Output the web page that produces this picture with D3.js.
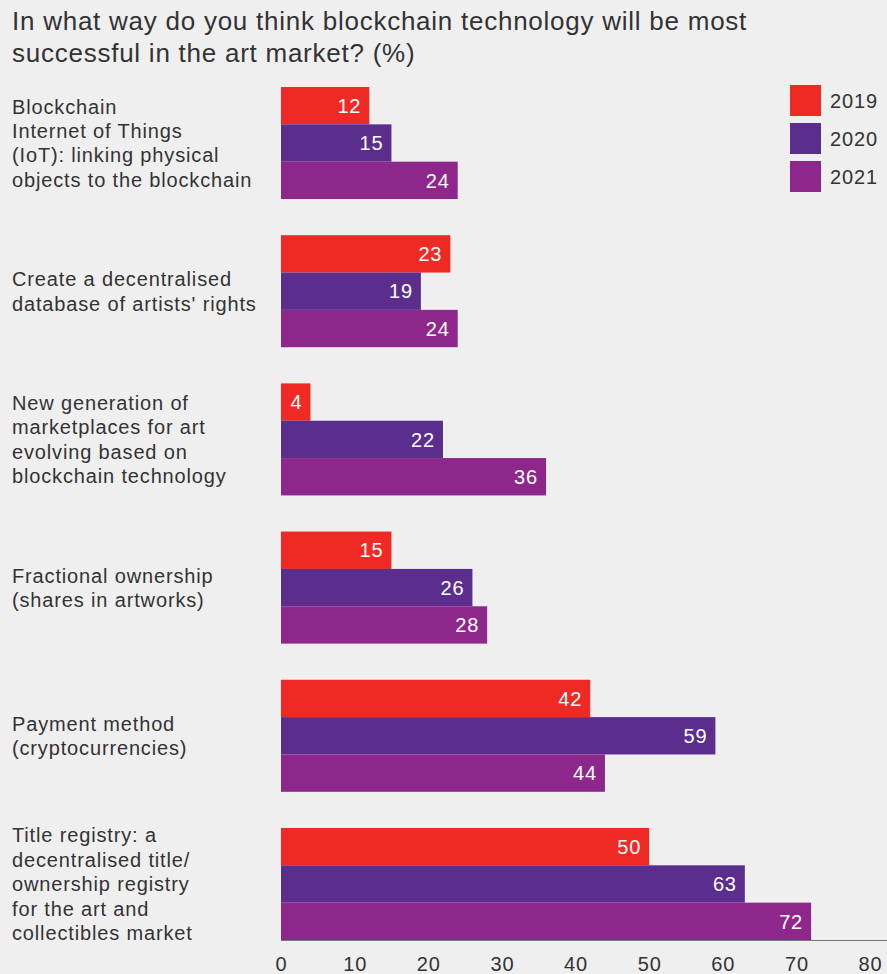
<!DOCTYPE html>
<html>
<head>
<meta charset="utf-8">
<script src="https://cdn.jsdelivr.net/npm/d3@7"></script>
<style>
  html, body { margin: 0; padding: 0; background: #efefef; }
  svg { display: block; font-family: "Liberation Sans", Arial, sans-serif; }
</style>
</head>
<body>
<svg id="chart" width="887" height="974"></svg>
<script>
// Survey answers, percent of respondents
const categories = [
  ["Blockchain", "Internet of Things", "(IoT): linking physical", "objects to the blockchain"],
  ["Create a decentralised", "database of artists' rights"],
  ["New generation of", "marketplaces for art", "evolving based on", "blockchain technology"],
  ["Fractional ownership", "(shares in artworks)"],
  ["Payment method", "(cryptocurrencies)"],
  ["Title registry: a", "decentralised title/", "ownership registry", "for the art and", "collectibles market"]
];
const years = ["2019", "2020", "2021"];
const values2019 = [12, 23, 4, 15, 42, 50];
const values2020 = [15, 19, 22, 26, 59, 63];
const values2021 = [24, 24, 36, 28, 44, 72];
const xTicks = [0, 10, 20, 30, 40, 50, 60, 70, 80];
const colors = ["#ef2a24", "#5b2e8e", "#8e278b"];

const series = [values2019, values2020, values2021];
const svg = d3.select("#chart");
const W = 887, H = 974;
const margin = { left: 281, right: 17, top: 87, bottom: 34 };
const textColor = "#333";
const fs = 20, ls = 0.85;

const x = d3.scaleLinear().domain([0, 80]).range([margin.left, W - margin.right]);
const y0 = d3.scaleBand().domain(d3.range(categories.length))
  .range([margin.top, H - margin.bottom]).paddingInner(0.244).paddingOuter(0);
const y1 = d3.scaleBand().domain(years).range([0, y0.bandwidth()]);

// Title
const title = svg.append("text").attr("x", 12).attr("y", 30)
  .attr("fill", textColor).attr("font-size", 26).attr("letter-spacing", 0.75);
title.append("tspan").attr("x", 12).text("In what way do you think blockchain technology will be most");
title.append("tspan").attr("x", 12).attr("dy", 32).text("successful in the art market? (%)");

// Bars
const groups = svg.append("g").selectAll("g").data(categories).join("g")
  .attr("transform", (d, i) => `translate(0,${y0(i)})`);

groups.each(function(cat, i) {
  const g = d3.select(this);
  const rows = years.map((yr, k) => ({ yr, k, v: series[k][i] }));
  g.selectAll("rect").data(rows).join("rect")
    .attr("x", x(0)).attr("y", d => y1(d.yr))
    .attr("width", d => x(d.v) - x(0)).attr("height", y1.bandwidth())
    .attr("fill", d => colors[d.k]);
  g.selectAll("text.val").data(rows).join("text").attr("class", "val")
    .attr("x", d => x(d.v) - 8).attr("y", d => y1(d.yr) + y1.bandwidth() / 2)
    .attr("dy", "0.36em").attr("text-anchor", "end")
    .attr("fill", "#fff").attr("font-size", fs).attr("letter-spacing", ls).text(d => d.v);

  // Category label, centred on the group
  const lh = 24.4;
  const lbl = g.append("text").attr("fill", textColor)
    .attr("font-size", fs).attr("letter-spacing", ls);
  cat.forEach((line, j) => {
    lbl.append("tspan").attr("x", 12)
      .attr("y", y0.bandwidth() / 2 + (j - (cat.length - 1) / 2) * lh)
      .attr("dy", "0.36em").text(line);
  });
});

// X axis
const axis = svg.append("g").attr("transform", `translate(0,${H - margin.bottom})`)
  .call(d3.axisBottom(x).tickValues(xTicks).tickSize(0).tickPadding(17));
axis.select(".domain").attr("stroke", "#777").attr("d", `M${x(0)},0.5H${W}`);
axis.selectAll("text").attr("fill", textColor).attr("font-size", fs)
  .attr("letter-spacing", ls).attr("font-family", "Liberation Sans, Arial, sans-serif");

// Legend
const legend = svg.append("g").selectAll("g").data(years).join("g")
  .attr("transform", (d, i) => `translate(790,${85 + i * 38})`);
legend.append("rect").attr("width", 31).attr("height", 31).attr("fill", (d, i) => colors[i]);
legend.append("text").attr("x", 40).attr("y", 15.5).attr("dy", "0.36em")
  .attr("fill", textColor).attr("font-size", fs).attr("letter-spacing", ls).text(d => d);
</script>
</body>
</html>
